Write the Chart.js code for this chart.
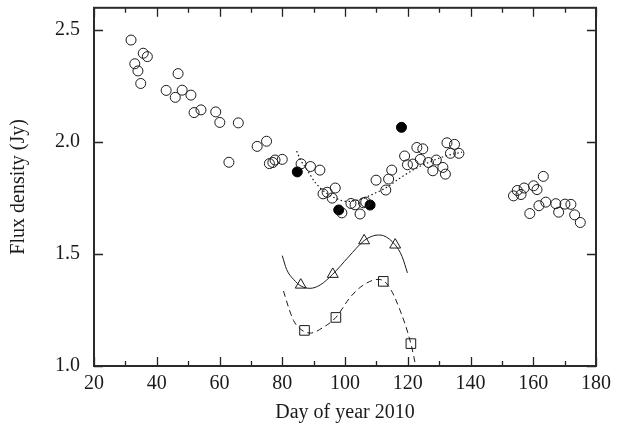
<!DOCTYPE html>
<html><head><meta charset="utf-8">
<script src="https://cdn.jsdelivr.net/npm/chart.js@4/dist/chart.umd.min.js"></script>
<style>html,body{margin:0;padding:0;background:#fff;}</style>
</head><body>
<canvas id="c" width="629" height="432"></canvas>
<script>
// ---- data ----
const openDays = [31.8,33.0,34.0,34.9,35.7,37.0,43.0,45.9,46.8,48.1,50.9,51.9,54.1,58.8,60.1,63.0,66.0,72.0,75.0,75.9,77.0,77.7,80.0,
  86.0,89.0,92.0,93.0,94.3,95.9,96.9,99.0,101.9,103.2,104.8,105.9,106.6,109.9,113.0,113.9,114.9,119.0,119.9,121.7,122.9,124.0,124.8,
  126.6,128.0,129.1,131.2,132.0,132.5,133.6,134.9,136.3,
  153.7,154.9,156.1,157.1,158.9,160.1,161.2,161.8,163.2,164.0,167.2,168.1,170.1,172.0,173.2,175.0];
const openFlux = [2.456,2.350,2.318,2.262,2.397,2.382,2.231,2.200,2.306,2.232,2.210,2.132,2.144,2.135,2.088,1.910,2.086,1.981,2.004,1.904,1.909,1.920,1.923,
  1.903,1.891,1.875,1.769,1.776,1.750,1.795,1.684,1.726,1.720,1.679,1.729,1.732,1.830,1.786,1.835,1.875,1.938,1.899,1.902,1.976,1.923,1.970,
  1.909,1.872,1.920,1.887,1.857,1.997,1.950,1.990,1.950,
  1.760,1.784,1.766,1.795,1.681,1.805,1.788,1.716,1.847,1.732,1.725,1.687,1.723,1.722,1.675,1.641];
const filledDays = [84.8,98.0,108.0,118.0];
const filledFlux = [1.867,1.697,1.719,2.066];
const triDays = [85.9,96.1,106.1,116.0];
const triFlux = [1.362,1.410,1.560,1.541];
const sqDays = [87.1,97.1,112.2,121.0];
const sqFlux = [1.159,1.217,1.378,1.100];
// fitted curves
const solidDays = [80.0,81.4,83.6,86.0,88.9,92.1,96.1,101.1,106.1,109.1,110.7,112.3,116.0,118.2,119.9];
const solidFlux = [1.493,1.431,1.387,1.357,1.347,1.362,1.410,1.487,1.560,1.582,1.585,1.582,1.541,1.489,1.416];
const dashDays = [80.4,82.0,83.6,85.7,88.9,93.1,97.1,101.6,105.9,110.7,113.9,117.6,121.0,122.5];
const dashFlux = [1.335,1.262,1.203,1.166,1.147,1.173,1.217,1.306,1.362,1.387,1.357,1.247,1.100,1.003];
const dotDays = [84.6,85.7,87.8,90.5,93.7,97.4,100.6,104.8,109.1,113.3,117.6,122.9,127.1,132.0,137.3];
const dotFlux = [1.960,1.923,1.879,1.820,1.776,1.747,1.735,1.744,1.769,1.798,1.840,1.885,1.912,1.938,1.955];
const xMajorTicks = [20,40,60,80,100,120,140,160,180];
const xMinorTicks = [30,50,70,90,110,130,150,170];
const yMajorTicks = [1.0,1.5,2.0,2.5];

const pts = (xs, ys) => xs.map((x, i) => ({x: x, y: ys[i]}));
const FONT = 'Liberation Serif';
const INK = '#1a1a1a';

const frameTicks = {
  id: 'frameTicks',
  afterDraw(chart) {
    const ctx = chart.ctx, a = chart.chartArea;
    const xs = chart.scales.x, ys = chart.scales.y;
    ctx.save();
    ctx.strokeStyle = '#222';
    ctx.lineWidth = 1.3;
    ctx.beginPath();
    xMajorTicks.forEach(v => {
      const p = Math.round(xs.getPixelForValue(v)) + 0.5;
      ctx.moveTo(p, a.bottom); ctx.lineTo(p, a.bottom - 9);
      ctx.moveTo(p, a.top); ctx.lineTo(p, a.top + 9);
    });
    xMinorTicks.forEach(v => {
      const p = Math.round(xs.getPixelForValue(v)) + 0.5;
      ctx.moveTo(p, a.bottom); ctx.lineTo(p, a.bottom - 5);
      ctx.moveTo(p, a.top); ctx.lineTo(p, a.top + 5);
    });
    yMajorTicks.forEach(v => {
      const p = Math.round(ys.getPixelForValue(v)) + 0.5;
      ctx.moveTo(a.left, p); ctx.lineTo(a.left + 9, p);
      ctx.moveTo(a.right, p); ctx.lineTo(a.right - 9, p);
    });
    ctx.stroke();
    ctx.lineWidth = 2;
    ctx.strokeStyle = '#2a2a2a';
    ctx.strokeRect(a.left, a.top, a.right - a.left, a.bottom - a.top);
    ctx.restore();
  }
};

new Chart(document.getElementById('c'), {
  type: 'scatter',
  data: {
    datasets: [
      {label: 'dotted', data: pts(dotDays, dotFlux), showLine: true, pointRadius: 0,
       borderColor: INK, borderWidth: 1.2, borderDash: [1.5, 2.5], cubicInterpolationMode: 'monotone'},
      {label: 'solid', data: pts(solidDays, solidFlux), showLine: true, pointRadius: 0,
       borderColor: INK, borderWidth: 1, cubicInterpolationMode: 'monotone'},
      {label: 'dashed', data: pts(dashDays, dashFlux), showLine: true, pointRadius: 0,
       borderColor: INK, borderWidth: 1, borderDash: [6, 4], cubicInterpolationMode: 'monotone'},
      {label: 'open', data: pts(openDays, openFlux), pointStyle: 'circle', pointRadius: 5,
       backgroundColor: 'rgba(255,255,255,0)', borderColor: INK, borderWidth: 1},
      {label: 'filled', data: pts(filledDays, filledFlux), pointStyle: 'circle', pointRadius: 5,
       backgroundColor: '#000', borderColor: '#000', borderWidth: 1},
      {label: 'tri', data: pts(triDays, triFlux), pointStyle: 'triangle', pointRadius: 6.3,
       backgroundColor: '#fff', borderColor: INK, borderWidth: 1},
      {label: 'sq', data: pts(sqDays, sqFlux), pointStyle: 'rect', pointRadius: 6.8,
       backgroundColor: '#fff', borderColor: INK, borderWidth: 1}
    ]
  },
  options: {
    responsive: false,
    animation: false,
    devicePixelRatio: 1,
    layout: {padding: {top: 4, right: 33, left: 0, bottom: 0}},
    plugins: {legend: {display: false}, tooltip: {enabled: false}},
    scales: {
      x: {
        type: 'linear', min: 20, max: 180,
        afterBuildTicks: s => { s.ticks = xMajorTicks.map(v => ({value: v})); },
        afterFit: s => { s.height = 66; s.paddingLeft = 0; s.paddingRight = 0; },
        grid: {display: false, drawTicks: false},
        border: {display: false},
        ticks: {padding: 6, color: INK, font: {family: FONT, size: 20}, callback: v => String(v)},
        title: {display: true, text: 'Day of year 2010', color: INK, font: {family: FONT, size: 20}, padding: {top: 0, bottom: 7}}
      },
      y: {
        type: 'linear', min: 1.0, max: 2.6,
        afterBuildTicks: s => { s.ticks = yMajorTicks.map(v => ({value: v})); },
        afterFit: s => { s.width = 94; s.paddingTop = 0; s.paddingBottom = 0; },
        grid: {display: false, drawTicks: false},
        border: {display: false},
        ticks: {padding: 14, color: INK, font: {family: FONT, size: 20}, callback: v => Number(v).toFixed(1)},
        title: {display: true, text: 'Flux density (Jy)', color: INK, font: {family: FONT, size: 20}, padding: {top: 7, bottom: 0}}
      }
    }
  },
  plugins: [frameTicks]
});
</script>
</body></html>
